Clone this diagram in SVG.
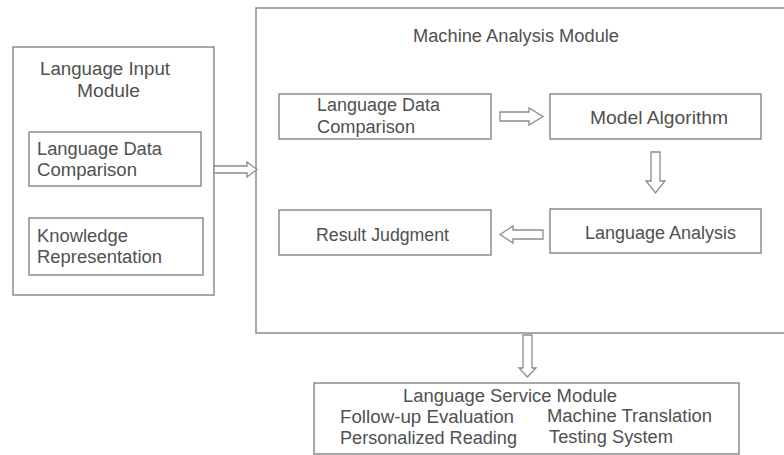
<svg xmlns="http://www.w3.org/2000/svg" width="784" height="455" viewBox="0 0 784 455">
  <style>
    .box { fill: #ffffff; stroke: #8c8c8c; stroke-width: 1.5; }
    .arrow { fill: #ffffff; stroke: #8c8c8c; stroke-width: 1.3; stroke-linejoin: miter; }
    .lbl { font-family: "Liberation Sans", Arial, sans-serif; font-size: 18px; fill: #505050; }
  </style>
  <rect width="784" height="455" fill="#ffffff"/>

  <!-- Language Input Module -->
  <g id="input-module">
    <rect class="box" x="13" y="47" width="201" height="248"/>
    <text class="lbl" x="40" y="75" textLength="130" lengthAdjust="spacingAndGlyphs">Language Input</text>
    <text class="lbl" x="77" y="97" textLength="63" lengthAdjust="spacingAndGlyphs">Module</text>
  </g>
  <g id="input-data-comparison">
    <rect class="box" x="29" y="132" width="172" height="54"/>
    <text class="lbl" x="37" y="155" textLength="125" lengthAdjust="spacingAndGlyphs">Language Data</text>
    <text class="lbl" x="37" y="176" textLength="100" lengthAdjust="spacingAndGlyphs">Comparison</text>
  </g>
  <g id="knowledge-representation">
    <rect class="box" x="29" y="218" width="174" height="57"/>
    <text class="lbl" x="37" y="242" textLength="91" lengthAdjust="spacingAndGlyphs">Knowledge</text>
    <text class="lbl" x="37" y="263" textLength="125" lengthAdjust="spacingAndGlyphs">Representation</text>
  </g>

  <!-- Machine Analysis Module -->
  <g id="analysis-module">
    <rect class="box" x="256" y="8" width="540" height="325"/>
    <text class="lbl" x="413" y="42" textLength="206" lengthAdjust="spacingAndGlyphs">Machine Analysis Module</text>
  </g>
  <g id="data-comparison">
    <rect class="box" x="279" y="94" width="212" height="45"/>
    <text class="lbl" x="317" y="111" textLength="123" lengthAdjust="spacingAndGlyphs">Language Data</text>
    <text class="lbl" x="317" y="133" textLength="98" lengthAdjust="spacingAndGlyphs">Comparison</text>
  </g>
  <g id="model-algorithm">
    <rect class="box" x="550" y="94" width="211" height="45"/>
    <text class="lbl" x="590" y="124" textLength="138" lengthAdjust="spacingAndGlyphs">Model Algorithm</text>
  </g>
  <g id="result-judgment">
    <rect class="box" x="279" y="210" width="212" height="45"/>
    <text class="lbl" x="316" y="241" textLength="133" lengthAdjust="spacingAndGlyphs">Result Judgment</text>
  </g>
  <g id="language-analysis">
    <rect class="box" x="550" y="209" width="211" height="44"/>
    <text class="lbl" x="585" y="239" textLength="151" lengthAdjust="spacingAndGlyphs">Language Analysis</text>
  </g>

  <!-- Language Service Module -->
  <g id="service-module">
    <rect class="box" x="314" y="383" width="425" height="71"/>
    <text class="lbl" x="403" y="402" textLength="214" lengthAdjust="spacingAndGlyphs">Language Service Module</text>
    <text class="lbl" x="340" y="423" textLength="174" lengthAdjust="spacingAndGlyphs">Follow-up Evaluation</text>
    <text class="lbl" x="547" y="422" textLength="165" lengthAdjust="spacingAndGlyphs">Machine Translation</text>
    <text class="lbl" x="340" y="444" textLength="177" lengthAdjust="spacingAndGlyphs">Personalized Reading</text>
    <text class="lbl" x="549" y="443" textLength="124" lengthAdjust="spacingAndGlyphs">Testing System</text>
  </g>

  <!-- Hollow block arrows -->
  <g id="connectors">
    <polygon class="arrow" points="214,166 247,166 247,162 257,169.5 247,177 247,173 214,173"/>
    <polygon class="arrow" points="500,112 529,112 529,108 543,116.5 529,125 529,121 500,121"/>
    <polygon class="arrow" points="651,152 660,152 660,181 665,181 655.5,193 646,181 651,181"/>
    <polygon class="arrow" points="543,230 513,230 513,226 500,234.5 513,243 513,239 543,239"/>
    <polygon class="arrow" points="523,335 532,335 532,368 536,368 527.5,377 519,368 523,368"/>
  </g>
</svg>
